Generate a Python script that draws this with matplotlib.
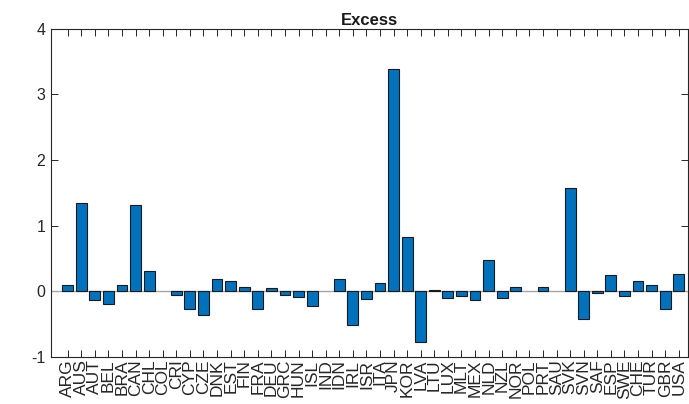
import matplotlib
matplotlib.use("Agg")
import matplotlib.pyplot as plt
import numpy as np

categories = ["ARG","AUS","AUT","BEL","BRA","CAN","CHL","COL","CRI","CYP","CZE","DNK",
              "EST","FIN","FRA","DEU","GRC","HUN","ISL","IND","IDN","IRL","ISR","ITA",
              "JPN","KOR","LVA","LTU","LUX","MLT","MEX","NLD","NZL","NOR","POL","PRT",
              "SAU","SVK","SVN","SAF","ESP","SWE","CHE","TUR","GBR","USA"]
excess = [0.10, 1.35, -0.14, -0.20, 0.10, 1.32, 0.30, 0.0, -0.066, -0.27, -0.36, 0.18,
          0.16, 0.066, -0.27, 0.04, -0.066, -0.086, -0.22, 0.0, 0.19, -0.52, -0.12, 0.13,
          3.39, 0.82, -0.77, 0.01, -0.10, -0.07, -0.13, 0.47, -0.10, 0.06, 0.0, 0.07,
          0.0, 1.575, -0.43, -0.036, 0.24, -0.08, 0.16, 0.10, -0.28, 0.26]
yticks = [-1, 0, 1, 2, 3, 4]
title = "Excess"

plt.rcParams['font.family'] = ['Liberation Sans', 'DejaVu Sans']
axc = '#262626'

fig = plt.figure(figsize=(6.89, 4.04), dpi=100)
ax = fig.add_axes([0.074, 0.117, 0.9245, 0.812])

x = np.arange(1, len(categories) + 1)
edges = ['none' if v == 0 else '#1a1a1a' for v in excess]
ax.bar(x, excess, width=0.8, color='#0072BD', edgecolor=edges, linewidth=0.8, zorder=3)
ax.axhline(0, color='#a6a6a6', linewidth=1.0, zorder=2)

ax.set_xlim(-0.23, 46.68)
ax.set_ylim(-1, 4)
ax.set_yticks(yticks)
ax.set_yticklabels([str(v) for v in yticks])
ax.set_xticks(x)
ax.set_xticklabels(categories, rotation=90)

for s in ax.spines.values():
    s.set_color(axc)
    s.set_linewidth(0.8)
ax.tick_params(axis='both', direction='in', colors=axc, labelcolor=axc,
               top=True, right=True, length=5, width=0.7)
ax.tick_params(axis='x', pad=2, labelsize=12.5)
ax.tick_params(axis='y', pad=4, labelsize=11.5)

ax.set_title(title, fontsize=12, fontweight='bold', color='#1a1a1a', pad=3)

fig.savefig("out.png", dpi=100)
